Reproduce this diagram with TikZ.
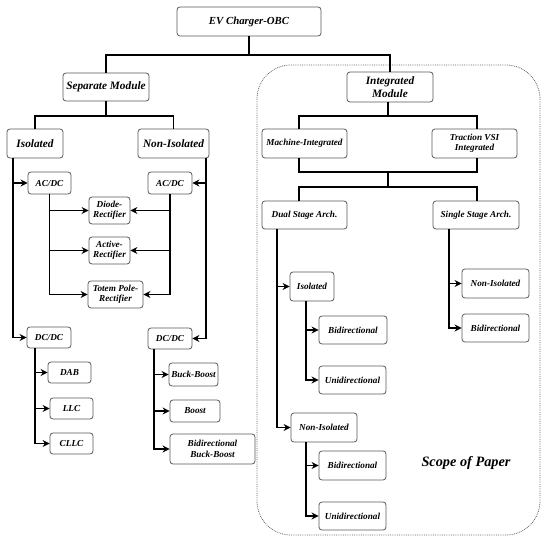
\documentclass[tikz,border=0pt]{standalone}
\usepackage{fontspec}
\setmainfont{Liberation Serif}
\usetikzlibrary{arrows.meta}
\tikzset{
  bx/.style={draw=black!65, line width=0.8pt, rounded corners=3pt, inner sep=0pt, align=center,
    font=\fontsize{9.2}{10.5}\selectfont\bfseries\itshape},
  bigbx/.style={bx, font=\fontsize{11.3}{13.5}\selectfont\bfseries\itshape},
  ln/.style={line width=1.5pt, black},
  arr/.style={ln, -{Stealth[length=7pt,width=7pt]}},
  scopebox/.style={draw=black!60, line width=0.8pt, densely dotted, rounded corners=34pt}
}
\newcommand{\bxn}[7][bx]{\node[#1, minimum width=#5pt, minimum height=#6pt] (#2) at (#3,#4) {#7};}
\begin{document}
\begin{tikzpicture}[x=1pt,y=-1pt]
\useasboundingbox (0,0) rectangle (550,543);
% scope region
\draw[scopebox] (257,65) rectangle (540,535);
% nodes
\bxn[bx, font=\fontsize{10.8}{12}\selectfont\bfseries\itshape]{ev}{249}{21.5}{144}{29}{EV Charger-OBC}
\bxn[bigbx]{sep}{106}{87}{86}{28}{Separate Module}
\bxn[bigbx]{iso}{35}{143.5}{56}{29}{Isolated}
\bxn[bigbx]{noniso}{173.5}{143.5}{71}{29}{Non-Isolated}
\bxn{acl}{49.5}{183}{43}{22}{AC/DC}
\bxn{acr}{170}{183}{44}{22}{AC/DC}
\bxn{diode}{109.5}{210.5}{41}{27}{Diode-\\Rectifier}
\bxn{active}{109.5}{250.5}{41}{27}{Active-\\Rectifier}
\bxn{totem}{115.5}{294.5}{55}{27}{Totem Pole-\\Rectifier}
\bxn{dcl}{49}{337.5}{44}{21}{DC/DC}
\bxn{dcr}{170}{338.5}{44}{21}{DC/DC}
\bxn{dab}{69.5}{372.5}{43}{21}{DAB}
\bxn{llc}{71.5}{408.5}{43}{21}{LLC}
\bxn{clc}{71.5}{443.5}{43}{21}{CLLC}
\bxn{bb}{193.5}{374.5}{49}{23}{Buck-Boost}
\bxn{boost}{195}{411}{50}{22}{Boost}
\bxn{bbb}{212.5}{449}{85}{30}{Bidirectional\\Buck-Boost}
\bxn[bigbx]{integ}{390}{87}{86}{30}{Integrated\\Module}
\bxn{mach}{304.5}{143.5}{85}{29}{Machine-Integrated}
\bxn{trac}{474.5}{143.5}{85}{29}{Traction VSI\\Integrated}
\bxn{dual}{304.5}{215}{85}{28}{Dual Stage Arch.}
\bxn{single}{476}{215}{86}{28}{Single Stage Arch.}
\bxn{iiso}{312}{286.5}{44}{29}{Isolated}
\bxn{ibia}{353}{330}{68}{28}{Bidirectional}
\bxn{iunia}{352.5}{380}{67}{28}{Unidirectional}
\bxn{inon}{324}{427.5}{66}{29}{Non-Isolated}
\bxn{ibib}{352.5}{465.5}{67}{29}{Bidirectional}
\bxn{iunib}{352.5}{516}{67}{28}{Unidirectional}
\bxn{snon}{495.5}{283.5}{67}{29}{Non-Isolated}
\bxn{sbi}{495.5}{328}{67}{28}{Bidirectional}
\node[font=\fontsize{14.3}{15}\selectfont\bfseries\itshape] (scope) at (466,463) {Scope of Paper};
% top connectors
\coordinate (j1) at (249,55);
\draw[ln] (ev.south) -- (j1);
\draw[ln] (sep.north) |- (j1) -| (integ.north);
\coordinate (j2) at (106,116);
\draw[ln] (sep.south) -- (j2);
\draw[ln] (iso.north) |- (j2) -| (noniso.north);
% isolated branch
\coordinate (a1) at (13,158);
\draw[arr] (a1) |- (acl.west);
\draw[arr] (a1) |- (dcl.west);
\coordinate (a2) at (206,158);
\draw[arr] (a2) |- (acr.east);
\draw[arr] (a2) |- (dcr.east);
% rectifiers
\draw[arr] (acl.south) |- (diode.west);
\draw[arr] (acl.south) |- (active.west);
\draw[arr] (acl.south) |- (totem.west);
\draw[arr] (acr.south) |- (diode.east);
\draw[arr] (acr.south) |- (active.east);
\draw[arr] (acr.south) |- (totem.east);
% DC/DC branches
\coordinate (a3) at (35,348);
\draw[arr] (a3) |- (dab.west);
\draw[arr] (a3) |- (llc.west);
\draw[arr] (a3) |- (clc.west);
\coordinate (a4) at (154,349);
\draw[arr] (a4) |- (bb.west);
\draw[arr] (a4) |- (boost.west);
\draw[arr] (a4) |- (bbb.west);
% integrated
\coordinate (j3) at (388,116);
\draw[ln] (integ.south -| j3) -- (j3);
\coordinate (m1) at (299,116);
\coordinate (t1) at (477,116);
\draw[ln] (mach.north -| m1) |- (j3) -| (trac.north -| t1);
\coordinate (m2) at (299,172);
\coordinate (t2) at (477,172);
\draw[ln] (mach.south -| m2) -- (m2) -- (t2) -- (trac.south -| t2);
\coordinate (j4) at (388,172);
\coordinate (j5) at (388,187);
\draw[ln] (j4) -- (j5);
\draw[ln] (dual.north -| m2) |- (j5) -| (single.north -| t2);
% dual stage
\coordinate (d1) at (277,229);
\draw[arr] (d1) |- (iiso.west);
\draw[arr] (d1) |- (inon.west);
\coordinate (d2) at (306,301);
\draw[arr] (d2) |- (ibia.west);
\draw[arr] (d2) |- (iunia.west);
\coordinate (d3) at (306,442);
\draw[arr] (d3) |- (ibib.west);
\draw[arr] (d3) |- (iunib.west);
% single stage
\coordinate (s1) at (449,229);
\draw[arr] (s1) |- (snon.west);
\draw[arr] (s1) |- (sbi.west);
\end{tikzpicture}
\end{document}
